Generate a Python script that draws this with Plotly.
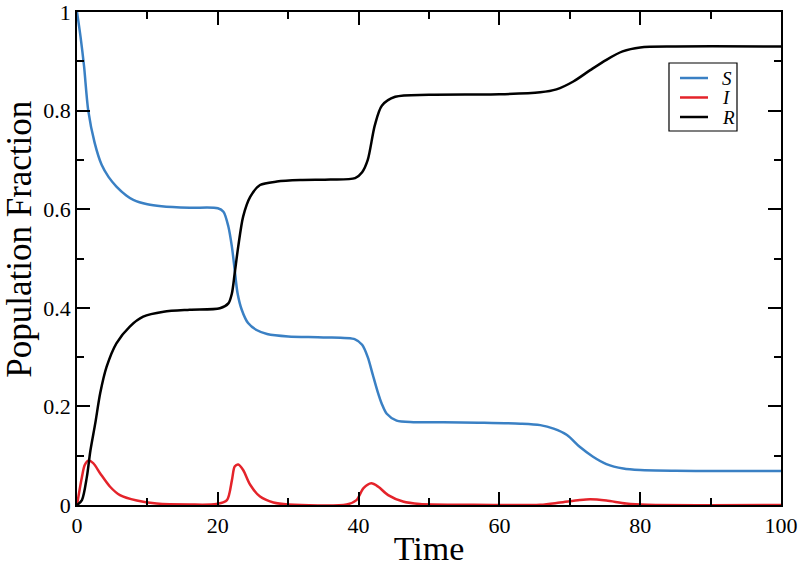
import plotly.graph_objects as go

# values
s_time = [0, 0.5, 1, 1.6, 2.5, 3.5, 4.5, 5.6, 7, 8, 10, 12, 16, 20, 20.8, 21.5, 22, 22.4,
          22.8, 23.4, 24.3, 25.5, 27, 30, 35, 39.5, 40.5, 41.3, 42, 42.7, 43.3, 44, 45.4,
          47.8, 52, 57, 63, 65.8, 67.7, 69.6, 71.4, 73.3, 75.2, 77.6, 80, 85, 90, 100]
s_vals = [1.0, 0.95, 0.89, 0.80, 0.735, 0.69, 0.665, 0.646, 0.628, 0.619, 0.61, 0.606, 0.603,
          0.602, 0.595, 0.565, 0.524, 0.477, 0.43, 0.396, 0.369, 0.355, 0.347, 0.342, 0.34,
          0.336, 0.325, 0.30, 0.265, 0.23, 0.205, 0.185, 0.171, 0.168, 0.168, 0.167, 0.165,
          0.162, 0.155, 0.142, 0.118, 0.098, 0.083, 0.074, 0.071, 0.0695, 0.069, 0.069]

i_time = [0, 0.7, 1.1, 1.6, 2.3, 3.3, 4.7, 6.1, 8.5, 11.3, 16, 19.8, 21.3, 22, 22.4, 22.9,
          23.6, 24.6, 26, 27.9, 30, 38.3, 39.7, 40.7, 41.8, 42.8, 44.2, 46.3, 48.7, 55, 65.8,
          68.6, 71.4, 72.9, 75.2, 78, 81, 100]
i_vals = [0, 0.057, 0.081, 0.09, 0.085, 0.064, 0.037, 0.02, 0.009, 0.003, 0.001, 0.002, 0.01,
          0.05, 0.078, 0.082, 0.071, 0.041, 0.017, 0.005, 0.001, 0.001, 0.01, 0.034, 0.044,
          0.037, 0.02, 0.007, 0.002, 0.0005, 0.0005, 0.005, 0.01, 0.0115, 0.009, 0.003,
          0.0005, 0]

r_time = [0, 0.7, 1.4, 1.9, 2.6, 3.3, 4.2, 5.6, 7.5, 9.4, 12.3, 16, 20.3, 21.5, 22, 22.4,
          22.9, 23.6, 24.6, 26, 28.4, 31.7, 36, 39.5, 40.5, 41.3, 42.3, 43.3, 45.2, 50, 60,
          65.8, 68.1, 70.5, 72.9, 75.2, 77.5, 80, 85, 100]
r_vals = [0, 0.01, 0.057, 0.11, 0.166, 0.227, 0.28, 0.328, 0.362, 0.382, 0.392, 0.396, 0.399,
          0.409, 0.429, 0.47, 0.524, 0.585, 0.625, 0.649, 0.656, 0.659, 0.66, 0.663, 0.675,
          0.70, 0.77, 0.81, 0.828, 0.832, 0.833, 0.837, 0.843, 0.859, 0.882, 0.903, 0.92,
          0.928, 0.93, 0.93]

series_names = ["S", "I", "R"]
series_colors = ["#3a80c4", "#e4232a", "black"]

FONT = "Liberation Serif"

fig = go.Figure()

# S, I, R curves
for name, color, tt, vv in zip(series_names, series_colors,
                               [s_time, i_time, r_time], [s_vals, i_vals, r_vals]):
    fig.add_trace(go.Scatter(x=tt, y=vv, mode="lines", name=name, showlegend=False,
                             line=dict(color=color, width=2.5, shape="spline", smoothing=0.8)))

# hand-drawn legend box (xmgrace style: tight rows)
shapes = [dict(type="rect", xref="paper", yref="paper", x0=0.8409, x1=0.9375,
               y0=0.7586, y1=0.8966, line=dict(color="black", width=1.2),
               fillcolor="white", layer="above")]
annotations = []
row_y = [0.8661, 0.8266, 0.7870]
for name, color, yy in zip(series_names, series_colors, row_y):
    shapes.append(dict(type="line", xref="paper", yref="paper", x0=0.8565, x1=0.8963,
                       y0=yy, y1=yy, line=dict(color=color, width=2.5), layer="above"))
    annotations.append(dict(xref="paper", yref="paper", x=0.9135, y=yy, xanchor="left",
                            yanchor="middle", showarrow=False, text=f"<i>{name}</i>",
                            font=dict(family=FONT, size=19, color="black")))

# y title placed by hand, a bit above the middle as in the reference
annotations.append(dict(xref="paper", yref="paper", x=-0.081, y=0.54, xanchor="center",
                        yanchor="middle", showarrow=False, textangle=-90,
                        text="Population Fraction",
                        font=dict(family=FONT, size=35, color="black")))

axis_style = dict(
    showline=True, linecolor="black", linewidth=1.5, mirror="ticks",
    ticks="inside", ticklen=13, tickwidth=1.5, tickcolor="black",
    showgrid=False, zeroline=False, automargin=False, ticklabeloverflow="allow",
    tickfont=dict(family=FONT, size=22, color="black"),
)

fig.update_layout(
    width=800, height=567,
    margin=dict(l=77, r=19, t=12, b=62),
    plot_bgcolor="white", paper_bgcolor="white",
    font=dict(family=FONT, color="black"),
    xaxis=dict(range=[0, 100], tickvals=[0, 20, 40, 60, 80, 100],
               minor=dict(dtick=10, ticks="inside", ticklen=7, tickwidth=1.5, tickcolor="black"),
               title=dict(text="Time", font=dict(family=FONT, size=34), standoff=0),
               **axis_style),
    yaxis=dict(range=[0, 1], tickvals=[0, 0.2, 0.4, 0.6, 0.8, 1],
               ticktext=["0", "0.2", "0.4", "0.6", "0.8", "1"],
               minor=dict(dtick=0.1, ticks="inside", ticklen=7, tickwidth=1.5, tickcolor="black"),
               **axis_style),
    shapes=shapes,
    annotations=annotations,
    showlegend=False,
)

# drop the default 8px page margin so the figure fills the window exactly
fig.write_html("out.html", config={"displayModeBar": False},
               post_script="document.body.style.margin = '0px';")
